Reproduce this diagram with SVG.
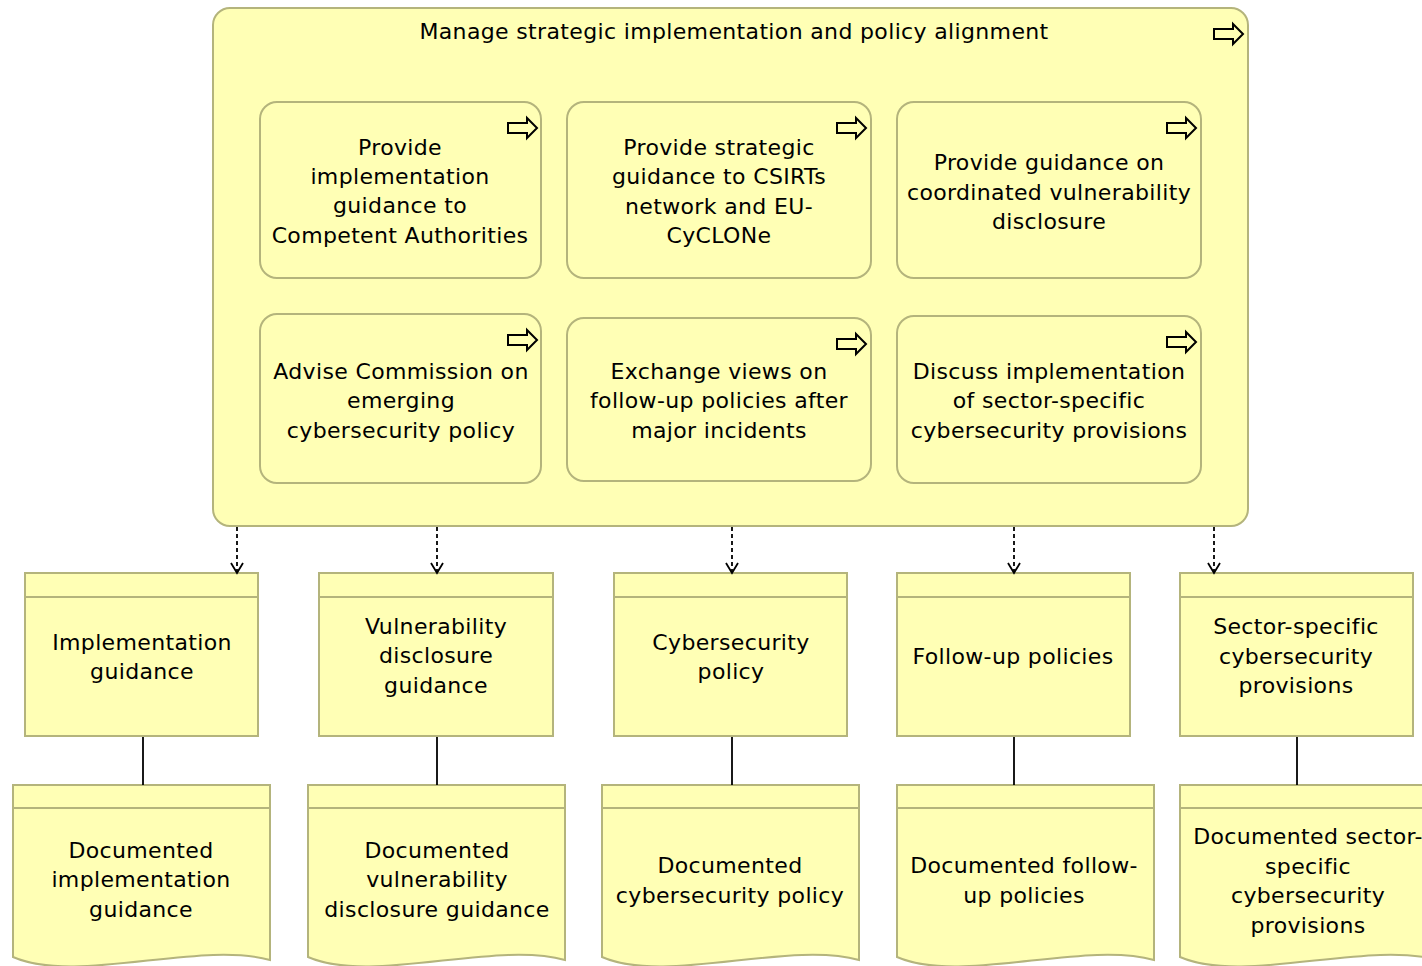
<svg xmlns="http://www.w3.org/2000/svg" width="1422" height="966" viewBox="0 0 1422 966">
<style>
.n{fill:#ffffb5;stroke:#b4b47c;stroke-width:2}
.t{font-family:"DejaVu Sans",sans-serif;font-size:22px;letter-spacing:0.35px;fill:#000;text-anchor:middle}
.ic{fill:none;stroke:#000;stroke-width:2;stroke-linejoin:miter}
.dash{fill:none;stroke:#000;stroke-width:1.8;stroke-dasharray:4,3}
.sol{fill:none;stroke:#000;stroke-width:1.8}
</style>
<defs>
<path id="pa" d="M0,5 H19 V0 L29,10 L19,20 V15 H0 Z"/>
<marker id="ah" markerWidth="14" markerHeight="14" refX="12" refY="7" orient="auto" markerUnits="userSpaceOnUse" viewBox="0 0 14 14">
<path d="M2,1 L12,7 L2,13" fill="none" stroke="#000" stroke-width="1.8"/>
</marker>
</defs>
<g id="group-main">
<rect class="n" x="213" y="8" width="1035" height="518" rx="17"/>
<text class="t" x="734" y="39">Manage strategic implementation and policy alignment</text>
<use href="#pa" class="ic" x="1214" y="24"/>
</g>
<g id="proc-a">
<rect class="n" x="260" y="102" width="281" height="176" rx="17"/>
<use href="#pa" class="ic" x="508" y="118"/>
<text class="t" x="400" y="155">Provide</text>
<text class="t" x="400" y="184">implementation</text>
<text class="t" x="400" y="213">guidance to</text>
<text class="t" x="400" y="243">Competent Authorities</text>
</g>
<g id="proc-b">
<rect class="n" x="567" y="102" width="304" height="176" rx="17"/>
<use href="#pa" class="ic" x="837" y="118"/>
<text class="t" x="719" y="155">Provide strategic</text>
<text class="t" x="719" y="184">guidance to CSIRTs</text>
<text class="t" x="719" y="214">network and EU-</text>
<text class="t" x="719" y="243">CyCLONe</text>
</g>
<g id="proc-c">
<rect class="n" x="897" y="102" width="304" height="176" rx="17"/>
<use href="#pa" class="ic" x="1167" y="118"/>
<text class="t" x="1049" y="170">Provide guidance on</text>
<text class="t" x="1049" y="200">coordinated vulnerability</text>
<text class="t" x="1049" y="229">disclosure</text>
</g>
<g id="proc-d">
<rect class="n" x="260" y="314" width="281" height="169" rx="17"/>
<use href="#pa" class="ic" x="508" y="330"/>
<text class="t" x="401" y="379">Advise Commission on</text>
<text class="t" x="401" y="408">emerging</text>
<text class="t" x="401" y="438">cybersecurity policy</text>
</g>
<g id="proc-e">
<rect class="n" x="567" y="318" width="304" height="163" rx="17"/>
<use href="#pa" class="ic" x="837" y="334"/>
<text class="t" x="719" y="379">Exchange views on</text>
<text class="t" x="719" y="408">follow-up policies after</text>
<text class="t" x="719" y="438">major incidents</text>
</g>
<g id="proc-f">
<rect class="n" x="897" y="316" width="304" height="167" rx="17"/>
<use href="#pa" class="ic" x="1167" y="332"/>
<text class="t" x="1049" y="379">Discuss implementation</text>
<text class="t" x="1049" y="408">of sector-specific</text>
<text class="t" x="1049" y="438">cybersecurity provisions</text>
</g>
<g id="obj-1">
<rect class="n" x="25" y="573" width="233" height="163"/>
<line class="n" x1="25" y1="597" x2="258" y2="597"/>
<text class="t" x="142" y="650">Implementation</text>
<text class="t" x="142" y="679">guidance</text>
</g>
<g id="obj-2">
<rect class="n" x="319" y="573" width="234" height="163"/>
<line class="n" x1="319" y1="597" x2="553" y2="597"/>
<text class="t" x="436" y="634">Vulnerability</text>
<text class="t" x="436" y="663">disclosure</text>
<text class="t" x="436" y="693">guidance</text>
</g>
<g id="obj-3">
<rect class="n" x="614" y="573" width="233" height="163"/>
<line class="n" x1="614" y1="597" x2="847" y2="597"/>
<text class="t" x="731" y="650">Cybersecurity</text>
<text class="t" x="731" y="679">policy</text>
</g>
<g id="obj-4">
<rect class="n" x="897" y="573" width="233" height="163"/>
<line class="n" x1="897" y1="597" x2="1130" y2="597"/>
<text class="t" x="1013" y="664">Follow-up policies</text>
</g>
<g id="obj-5">
<rect class="n" x="1180" y="573" width="233" height="163"/>
<line class="n" x1="1180" y1="597" x2="1413" y2="597"/>
<text class="t" x="1296" y="634">Sector-specific</text>
<text class="t" x="1296" y="664">cybersecurity</text>
<text class="t" x="1296" y="693">provisions</text>
</g>
<g id="rep-1">
<path class="n" d="M13,785 H270 V960 C200,940 77,985 13,957 Z"/>
<line class="n" x1="13" y1="808" x2="270" y2="808"/>
<text class="t" x="141" y="858">Documented</text>
<text class="t" x="141" y="887">implementation</text>
<text class="t" x="141" y="917">guidance</text>
</g>
<g id="rep-2">
<path class="n" d="M308,785 H565 V960 C495,940 372,985 308,957 Z"/>
<line class="n" x1="308" y1="808" x2="565" y2="808"/>
<text class="t" x="437" y="858">Documented</text>
<text class="t" x="437" y="887">vulnerability</text>
<text class="t" x="437" y="917">disclosure guidance</text>
</g>
<g id="rep-3">
<path class="n" d="M602,785 H859 V960 C789,940 666,985 602,957 Z"/>
<line class="n" x1="602" y1="808" x2="859" y2="808"/>
<text class="t" x="730" y="873">Documented</text>
<text class="t" x="730" y="903">cybersecurity policy</text>
</g>
<g id="rep-4">
<path class="n" d="M897,785 H1154 V960 C1084,940 961,985 897,957 Z"/>
<line class="n" x1="897" y1="808" x2="1154" y2="808"/>
<text class="t" x="1024" y="873">Documented follow-</text>
<text class="t" x="1024" y="903">up policies</text>
</g>
<g id="rep-5">
<path class="n" d="M1180,785 H1437 V960 C1367,940 1244,985 1180,957 Z"/>
<line class="n" x1="1180" y1="808" x2="1437" y2="808"/>
<text class="t" x="1308" y="844">Documented sector-</text>
<text class="t" x="1308" y="874">specific</text>
<text class="t" x="1308" y="903">cybersecurity</text>
<text class="t" x="1308" y="933">provisions</text>
</g>
<g id="connectors">
<line class="dash" x1="237" y1="527" x2="237" y2="573" marker-end="url(#ah)"/>
<line class="dash" x1="437" y1="527" x2="437" y2="573" marker-end="url(#ah)"/>
<line class="dash" x1="732" y1="527" x2="732" y2="573" marker-end="url(#ah)"/>
<line class="dash" x1="1014" y1="527" x2="1014" y2="573" marker-end="url(#ah)"/>
<line class="dash" x1="1214" y1="527" x2="1214" y2="573" marker-end="url(#ah)"/>
<line class="sol" x1="143" y1="737" x2="143" y2="785"/>
<line class="sol" x1="437" y1="737" x2="437" y2="785"/>
<line class="sol" x1="732" y1="737" x2="732" y2="785"/>
<line class="sol" x1="1014" y1="737" x2="1014" y2="785"/>
<line class="sol" x1="1297" y1="737" x2="1297" y2="785"/>
</g>
</svg>
